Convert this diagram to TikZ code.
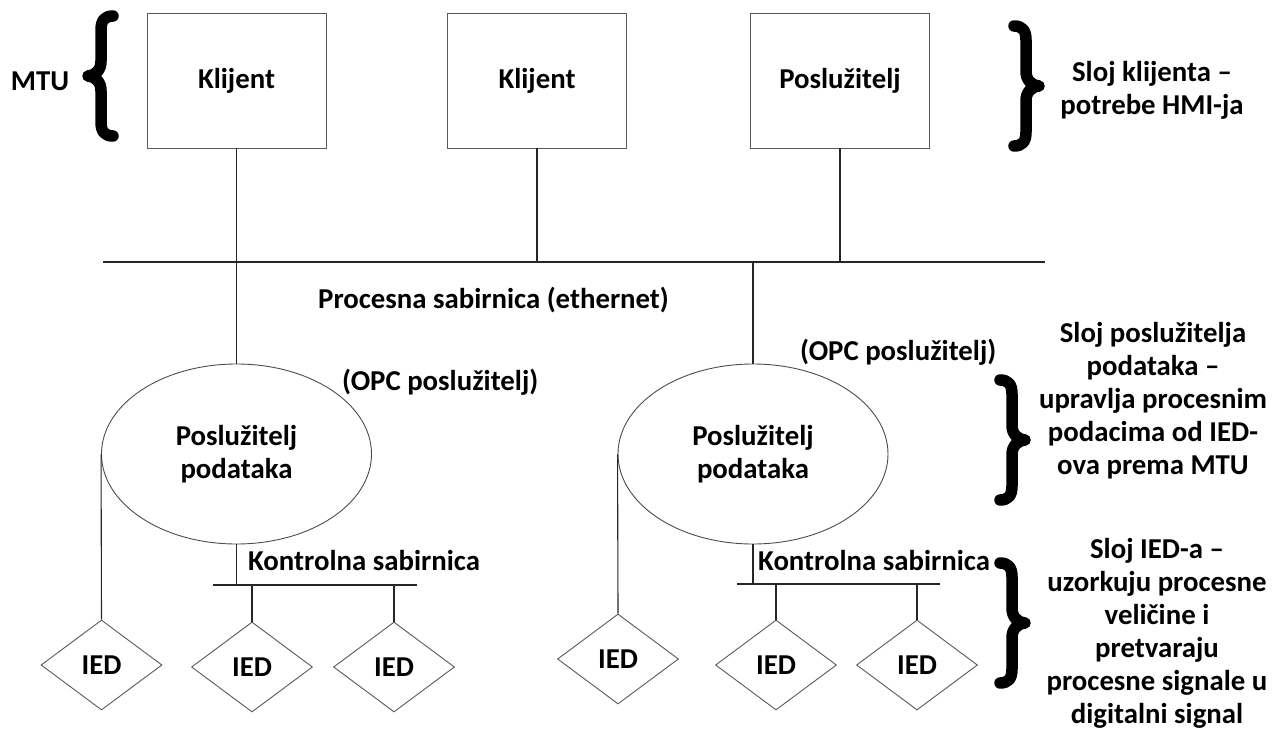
\documentclass[tikz,border=0pt]{standalone}
\usepackage{fontspec}
\setmainfont{Carlito}
\usetikzlibrary{shapes.geometric}
\begin{document}
\begin{tikzpicture}[x=1pt,y=-1pt,
  every node/.style={font=\bfseries\fontsize{28.8}{33}\selectfont, inner sep=0pt},
  conn/.style={line width=1.1pt, black!85},
  boxnode/.style={draw=black!65, line width=0.9pt, minimum width=179pt, minimum height=135pt},
  ellnode/.style={ellipse, draw=black!70, line width=0.9pt, minimum width=270pt, minimum height=180pt, align=center},
  iednode/.style={diamond, draw=black!65, line width=0.9pt, minimum width=121pt, minimum height=90pt},
  txt/.style={align=center},
  rbrace/.pic={
    \draw[line width=11.5pt, line cap=round, line join=round]
      (-12,-60) .. controls (-4,-60) and (0,-56) .. (0,-46) -- (0,-15)
      .. controls (0,-6) and (5,-1) .. (13,0)
      .. controls (5,1) and (0,6) .. (0,15) -- (0,46)
      .. controls (0,56) and (-4,60) .. (-12,60);
  }
]
\useasboundingbox (0,0) rectangle (1280,736);

% top boxes
\node[boxnode] (k1) at (236.5,80.5) {Klijent};
\node[boxnode] (k2) at (537,80.5) {Klijent};
\node[boxnode] (srv) at (840,80.5) {Poslužitelj};

% process bus
\coordinate (busL) at (103,262);
\coordinate (busR) at (1045,262);
\draw[conn] (busL) -- (busR);
\draw[conn] (k1.south) -- (k1.south |- busL);
\draw[conn] (k2.south) -- (k2.south |- busL);
\draw[conn] (srv.south) -- (srv.south |- busL);
\node[anchor=west] (pbus) at (318,300) {Procesna sabirnica (ethernet)};

% data servers
\node[ellnode] (e1) at (236.5,454) {Poslužitelj\\podataka};
\node[ellnode] (e2) at (753,454) {Poslužitelj\\podataka};
\draw[conn] (e1.north) -- (e1.north |- busL);
\draw[conn] (e2.north) -- (e2.north |- busL);
\node[anchor=west] (opc1) at (342,382) {(OPC poslužitelj)};
\node[anchor=west] (opc2) at (800,352) {(OPC poslužitelj)};

% IEDs
\node[iednode] (d1) at (101.5,665) {IED};
\node[iednode] (d2) at (252,667) {IED};
\node[iednode] (d3) at (394,667) {IED};
\node[iednode] (d4) at (618,659) {IED};
\node[iednode] (d5) at (776,665) {IED};
\node[iednode] (d6) at (917,665) {IED};

% control buses
\coordinate (cb1L) at (213,585);
\coordinate (cb1R) at (417,585);
\coordinate (cb2L) at (737,584);
\coordinate (cb2R) at (940,584);
\draw[conn] (cb1L) -- (cb1R);
\draw[conn] (cb2L) -- (cb2R);
\draw[conn] (e1.south) -- (e1.south |- cb1L);
\draw[conn] (e2.south) -- (e2.south |- cb2L);
\draw[conn] (d2.north) -- (d2.north |- cb1L);
\draw[conn] (d3.north) -- (d3.north |- cb1L);
\draw[conn] (d5.north) -- (d5.north |- cb2L);
\draw[conn] (d6.north) -- (d6.north |- cb2L);
\draw[conn] (e1.west) -- (d1.north);
\draw[conn] (e2.west) -- (d4.north);
\node[anchor=west] (kb1) at (248,560) {Kontrolna sabirnica};
\node[anchor=west] (kb2) at (758,560) {Kontrolna sabirnica};

% braces and layer descriptions
\node (mtu) at (40,81) {MTU};
\pic[xscale=-1] at (101,76) {rbrace};
\pic at (1026,86) {rbrace};
\pic at (1012,440) {rbrace};
\pic at (1012,623) {rbrace};

\node[txt] (t1) at (1152,90) {Sloj klijenta –\\potrebe HMI-ja};
\node[txt] (t2) at (1153,401) {Sloj poslužitelja\\podataka –\\upravlja procesnim\\podacima od IED-\\ova prema MTU};
\node[txt] (t3) at (1157,633) {Sloj IED-a –\\uzorkuju procesne\\veličine i\\pretvaraju\\procesne signale u\\digitalni signal};
\end{tikzpicture}
\end{document}
